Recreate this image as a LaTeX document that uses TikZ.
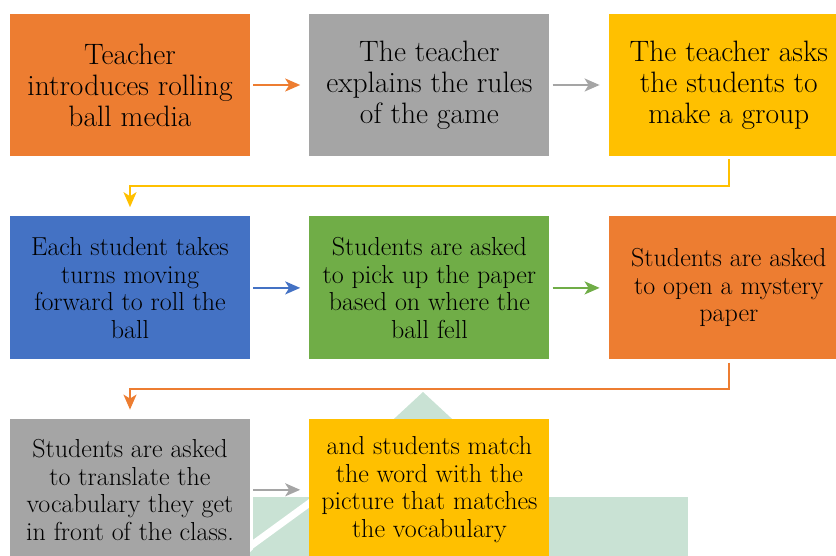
\documentclass[tikz,border=0pt]{standalone}
\usepackage{fontspec}
\usetikzlibrary{%
  positioning
 ,arrows.meta
}
\definecolor{accOrange}{RGB}{237,125,49}
\definecolor{accGray}{RGB}{165,165,165}
\definecolor{accYellow}{RGB}{255,192,0}
\definecolor{accBlue}{RGB}{68,114,196}
\definecolor{accGreen}{RGB}{112,173,71}
\definecolor{wmGreen}{RGB}{201,226,212}
\tikzstyle{stage}=[rectangle,minimum width=240pt,minimum height=142pt,
  align=center,inner sep=0pt,text=black]

\begin{document}
\begin{tikzpicture}[x=1pt,y=-1pt]
    \useasboundingbox (0,0) rectangle (836,556);
    % pale logo behind the last row
    \fill[wmGreen] (423,392) -- (600,556) -- (246,556) -- cycle;
    \fill[wmGreen] (253,497) rectangle (688,556);
    \draw[white,line width=7pt] (245,550) -- (315,499);
    %
    \tikzstyle{big}=[font=\fontsize{29.5}{31}\selectfont]
    \tikzstyle{mid}=[font=\fontsize{26}{27.5}\selectfont]
    \node[stage,big,fill=accOrange](intro) at (130,85)
      {Teacher\\introduces rolling\\ball media};
    \node[stage,big,fill=accGray,right=59pt of intro](rules)
      {The teacher\\explains the rules\\of the game};
    \node[stage,big,fill=accYellow,right=59pt of rules](group)
      {The teacher asks\\the students to\\make a group};
    \node[stage,mid,fill=accBlue,minimum height=143pt,below=60pt of intro](roll)
      {Each student takes\\turns moving\\forward to roll the\\ball};
    \node[stage,mid,fill=accGreen,minimum height=143pt,right=59pt of roll](pick)
      {Students are asked\\to pick up the paper\\based on where the\\ball fell};
    \node[stage,mid,fill=accOrange,minimum height=143pt,right=59pt of pick](mystery)
      {Students are asked\\to open a mystery\\paper};
    \node[stage,mid,fill=accGray,below=59pt of roll](translate)
      {Students are asked\\to translate the\\vocabulary they get\\in front of the class.};
    \node[stage,mid,fill=accYellow,right=59pt of translate](match)
      {and students match\\the word with the\\picture that matches\\the vocabulary};
    %
    \coordinate[below=30pt of group.south](bendA);
    \coordinate[below=29pt of mystery.south](bendB);

    \tikzstyle{arr}=[-{Stealth[length=15pt,width=13pt,inset=4pt]},
                     line width=2pt,shorten <=3pt,shorten >=9pt]
    \draw[arr,accOrange] (intro) -- (rules);
    \draw[arr,accGray] (rules) -- (group);
    \draw[arr,accYellow] (group.south) -- (bendA) -| (roll.north);
    \draw[arr,accBlue] (roll) -- (pick);
    \draw[arr,accGreen] (pick) -- (mystery);
    \draw[arr,accOrange] (mystery.south) -- (bendB) -| (translate.north);
    \draw[arr,accGray] (translate) -- (match);
\end{tikzpicture}
\end{document}
